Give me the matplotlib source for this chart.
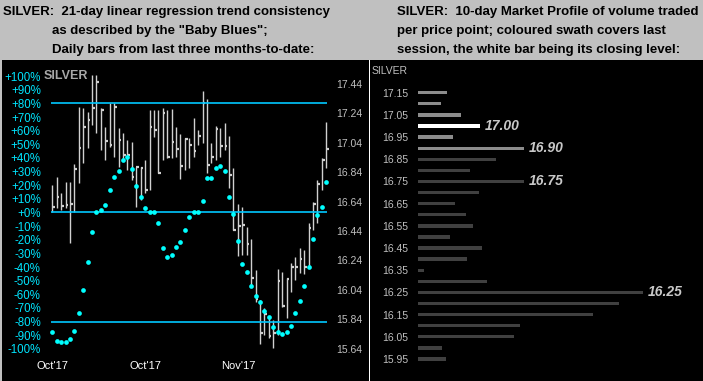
import numpy as np
import matplotlib
matplotlib.use('Agg')
import matplotlib.pyplot as plt
from matplotlib.patches import Rectangle

plt.rcParams['font.family'] = ['Liberation Sans', 'DejaVu Sans']

# ---- left panel data: daily bars (high, low, close) and "Baby Blues" (%)
highs = [16.753, 16.81, 16.697, 16.776, 16.776, 16.894, 17.286, 17.275, 17.252, 17.5,
         17.5, 17.275, 17.15, 17.313, 17.313, 17.139, 17.105, 17.059, 17.048, 16.878,
         16.878, 16.923, 17.263, 17.263, 17.263, 17.275, 17.263, 17.268, 17.15, 17.1,
         17.071, 17.071, 17.207, 17.127, 17.392, 17.336, 17.037, 17.154, 17.139, 17.173,
         17.086, 16.867, 16.627, 16.606, 16.47, 16.386, 16.175, 15.971, 15.915, 15.858,
         15.835, 16.18, 16.164, 16.118, 16.225, 16.266, 16.323, 16.311, 16.493, 16.64,
         16.787, 16.935, 17.184]
lows = [16.572, 16.595, 16.583, 16.595, 16.359, 16.572, 16.765, 16.9, 17.003, 17.161,
        17.105, 16.991, 16.923, 17.014, 16.946, 16.878, 16.923, 16.855, 16.787, 16.606,
        16.651, 16.697, 16.719, 17.082, 16.833, 16.923, 16.935, 16.935, 16.946, 16.792,
        16.855, 16.867, 16.946, 17.025, 17.037, 16.833, 16.9, 16.923, 16.946, 16.991,
        16.731, 16.447, 16.27, 16.277, 16.277, 16.066, 15.96, 15.672, 15.733, 15.711,
        15.643, 15.733, 15.926, 15.846, 16.028, 16.107, 16.153, 16.146, 16.191, 16.45,
        16.493, 16.719, 16.867]
closes = [16.606, 16.674, 16.613, 16.617, 16.622, 16.862, 17.003, 17.15, 17.195, 17.28,
          17.455, 17.263, 17.054, 17.025, 17.286, 17.059, 16.957, 16.957, 16.805, 16.878,
          16.867, 16.719, 17.15, 17.127, 16.837, 17.24, 16.946, 17.043, 16.996, 16.882,
          17.064, 17.025, 16.986, 17.086, 17.313, 16.889, 16.946, 17.136, 17.018, 17.018,
          16.821, 16.45, 16.474, 16.481, 16.35, 16.118, 15.978, 15.749, 15.876, 15.729,
          15.745, 16.1, 15.93, 16.112, 16.198, 16.198, 16.25, 16.198, 16.459, 16.622,
          16.758, 16.923, 16.996]
baby_blues = [-87.5, -94, -95, -95, -93, -87, -73.5, -57, -36, -14,
              0, 1.5, 5.5, 16.5, 26, 30.7, 38.5, 40.7, 32, 19.5,
              11, 3, 0.6, 0, -8, -26, -33, -31, -25, -22,
              -13, -3, 0.6, 0.6, 8.7, 25.5, 25.5, 32.9, 34, 30.7,
              11.6, -1, -21, -37.5, -43.4, -53.7, -61, -66, -72, -77,
              -84, -88, -89, -87.5, -83, -74, -64.7, -54, -39.8, -19.4,
              -1.8, 4.3, 22.4]
month_pos = [0, 21, 42]
month_labels = ["Oct'17", "Oct'17", "Nov'17"]
pct_ticks = list(range(-100, 101, 10))
price_ticks = [15.64, 15.84, 16.04, 16.24, 16.44, 16.64, 16.84, 17.04, 17.24, 17.44]
bb_levels = [80, 0, -80]

# ---- right panel data: 10-day market profile
mp_prices = [17.15, 17.10, 17.05, 17.00, 16.95, 16.90, 16.85, 16.80, 16.75, 16.70,
             16.65, 16.60, 16.55, 16.50, 16.45, 16.40, 16.35, 16.30, 16.25, 16.20,
             16.15, 16.10, 16.05, 16.00, 15.95]
mp_volume = [29, 23.3, 43.3, 62.3, 35, 106.3, 78.3, 52.3, 106.3, 61.3,
             37.3, 48.3, 55, 32.3, 64, 49, 6.3, 69, 225, 201.3,
             175.3, 102.3, 96.3, 24, 28]
last_hi, last_lo = 17.15, 16.90   # last session swath
close_level = 17.00
mp_labels = [17.00, 16.90, 16.75, 16.25]
mp_ticks = [17.15, 17.05, 16.95, 16.85, 16.75, 16.65, 16.55, 16.45, 16.35, 16.25, 16.15, 16.05, 15.95]

W, H = 703, 381
fig = plt.figure(figsize=(W / 100, H / 100), dpi=100, facecolor='#c0c0c0')


def fx(px):
    return px / W


def fy(py):
    return 1 - py / H


# black panels + divider
fig.patches.append(Rectangle((fx(2), 0), 1 - fx(2), fy(60), transform=fig.transFigure,
                             facecolor='black', edgecolor='none', zorder=-5))
fig.patches.append(Rectangle((fx(369), 0), fx(1.3), fy(60), transform=fig.transFigure,
                             facecolor='white', edgecolor='none', zorder=-4))

# titles
tkw = dict(fontsize=9.5, fontweight='bold', color='black', va='baseline')
fig.text(fx(3), fy(15), 'SILVER:  21-day linear regression trend consistency', **tkw)
fig.text(fx(52), fy(34), 'as described by the "Baby Blues";', **tkw)
fig.text(fx(52), fy(53), 'Daily bars from last three months-to-date:', **tkw)
fig.text(fx(397), fy(15), 'SILVER:  10-day Market Profile of volume traded', **tkw)
fig.text(fx(397), fy(34), 'per price point; coloured swath covers last', **tkw)
fig.text(fx(397), fy(53), 'session, the white bar being its closing level:', **tkw)

# ---- left chart: price bars underneath, baby blues on top
n = len(closes)
idx = np.arange(n)
axp = fig.add_axes([fx(45), fy(355), fx(332) - fx(45), fy(62) - fy(355)])
axp.set_facecolor('none')
axp.set_xlim(-1.65, 63.29)
axp.set_ylim(15.5971, 17.5896)
axp.vlines(idx, lows, highs, color='#d0d0d0', lw=1.0, zorder=3)
axp.hlines(closes, idx, idx + 0.6, color='#d0d0d0', lw=1.6, zorder=3)
axp.set_xticks(month_pos)
axp.set_xticklabels(month_labels)
axp.tick_params(axis='x', length=0, pad=4, labelsize=8, labelcolor='white')

ax = axp.twinx()
ax.set_ylim(-104.55, 110.4)
ax.hlines(bb_levels, -0.3, 62.2, color='#00c8ff', lw=1.2, zorder=2)
ax.plot(idx, baby_blues, 'o', color='#00ffff', ms=3.4, mec='none', zorder=4)
ax.text(-2.0, 100, 'SILVER', color='#a8a8a8', fontsize=9, fontweight='bold',
        va='center', ha='left')

# percent axis on the left, price axis on the right
ax.yaxis.tick_left()
axp.yaxis.tick_right()
ax.set_yticks(pct_ticks)
ax.set_yticklabels([('+%d%%' % t) if t >= 0 else ('%d%%' % t) for t in pct_ticks])
ax.tick_params(axis='y', length=0, pad=3, labelsize=8.3, labelcolor='#00e5ff')
axp.set_yticks(price_ticks)
axp.set_yticklabels(['%.2f' % t for t in price_ticks])
axp.tick_params(axis='y', length=0, pad=3, labelsize=7.5, labelcolor='#c0c0c0')
for a in (ax, axp):
    for s in a.spines.values():
        s.set_visible(False)

# ---- right chart (market profile)
axr = fig.add_axes([fx(412), 0, 1 - fx(412), fy(60)])
axr.set_facecolor('none')
axr.set_xlim(-5.7, 285.3)
axr.set_ylim(15.8508, 17.2974)
for s in axr.spines.values():
    s.set_visible(False)
axr.set_xticks([])
axr.set_yticks(mp_ticks)
axr.set_yticklabels(['%.2f' % t for t in mp_ticks])
axr.tick_params(axis='y', length=0, pad=3, labelsize=7.5, labelcolor='#c0c0c0')
cols = []
for p in mp_prices:
    if abs(p - close_level) < 1e-6:
        cols.append('white')
    elif last_lo - 1e-6 <= p <= last_hi + 1e-6:
        cols.append('#8c8c8c')
    else:
        cols.append('#404040')
axr.barh(mp_prices, mp_volume, height=0.015, color=cols, left=0)
for lv in mp_labels:
    v = mp_volume[mp_prices.index(lv)]
    axr.text(v + 5, lv, '%.2f' % lv, color='#c8c8c8', fontsize=10, fontweight='bold',
             fontstyle='italic', va='center', ha='left')
fig.text(fx(372), fy(71), 'SILVER', color='#c0c0c0', fontsize=7.5, va='center', ha='left')

fig.savefig('out.png', dpi=100, facecolor=fig.get_facecolor())
